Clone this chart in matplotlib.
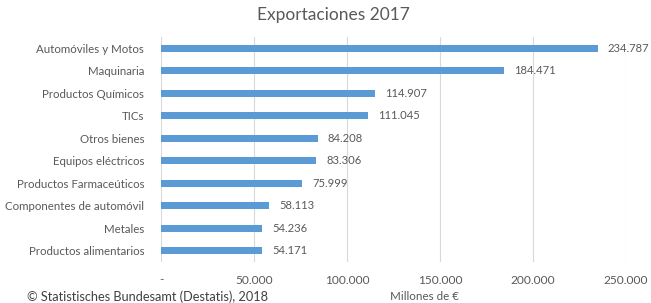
import matplotlib.pyplot as plt
from matplotlib.ticker import FuncFormatter

plt.rcParams["font.family"] = ["Lato", "DejaVu Sans"]

categorias = ["Automóviles y Motos", "Maquinaria", "Productos Químicos", "TICs",
              "Otros bienes", "Equipos eléctricos", "Productos Farmaceúticos",
              "Componentes de automóvil", "Metales", "Productos alimentarios"]
valores = [234787, 184471, 114907, 111045, 84208, 83306, 75999, 58113, 54236, 54171]
ticks = [0, 50000, 100000, 150000, 200000, 250000]

gris = "#595959"
azul = "#5b9bd5"


def miles(v, pos=None):
    if v == 0:
        return "-"
    return f"{int(v):,}".replace(",", ".")


fig = plt.figure(figsize=(6.51, 3.03), dpi=100)
ax = fig.add_axes([161 / 651, 1 - 262 / 303, 465 / 651, 225 / 303])

y = list(range(len(categorias)))[::-1]
ax.barh(y, valores, height=0.32, color=azul, zorder=3)
for yi, v in zip(y, valores):
    ax.text(v + 5500, yi, miles(v), va="center", ha="left", fontsize=8.1, color=gris)

ax.set_xlim(0, 250000)
ax.set_ylim(-0.5, len(categorias) - 0.5)
ax.set_xticks(ticks)
ax.xaxis.set_major_formatter(FuncFormatter(miles))
ax.set_yticks(y)
ax.set_yticklabels(categorias)
ax.tick_params(axis="both", length=0, colors=gris)
ax.tick_params(axis="x", pad=9, labelsize=8.6)
ax.tick_params(axis="y", pad=12, labelsize=8.3)
ax.grid(axis="x", color="#d9d9d9", linewidth=0.8, zorder=0)
for s in ax.spines.values():
    s.set_visible(False)

fig.text(333 / 651, 1 - 15 / 303, "Exportaciones 2017", ha="center", va="center",
         fontsize=12.5, color=gris)
fig.text(425 / 651, 1 - 296 / 303, "Millones de €", ha="center", va="center",
         fontsize=8.4, color=gris)
fig.text(27 / 651, 1 - 297 / 303, "© Statistisches Bundesamt (Destatis), 2018",
         ha="left", va="center", fontsize=9.2, color="#404040")

fig.savefig("out.png", dpi=100)
